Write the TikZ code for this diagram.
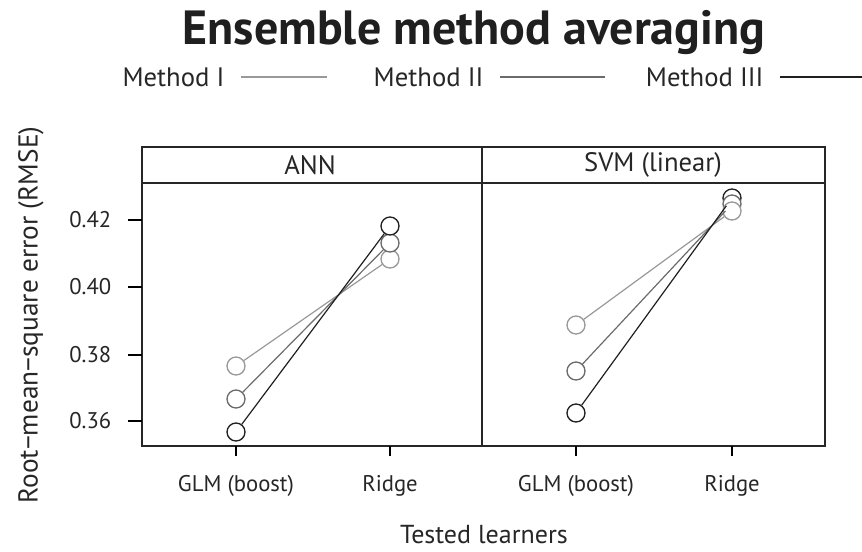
\documentclass[tikz,border=0pt]{standalone}
\usepackage{fontspec}
\setmainfont{PT Sans}
\begin{document}
\begin{tikzpicture}[x=0.75pt,y=-0.75pt,
  frame/.style={draw=black!85,line width=1pt},
  pt/.style={circle,draw,line width=1pt,minimum size=13.5pt,inner sep=0pt,fill=white},
  mI/.style={draw=black!40},
  mII/.style={draw=black!58},
  mIII/.style={draw=black!88},
  lnI/.style={black!40,line width=0.9pt},
  lnII/.style={black!58,line width=0.9pt},
  lnIII/.style={black!88,line width=0.9pt},
  tick/.style={line width=0.9pt},
  ticklab/.style={font=\fontsize{17}{20}\selectfont,text=black!85},
  striplab/.style={font=\fontsize{20}{24}\selectfont,text=black!85},
  leglab/.style={font=\fontsize{20}{24}\selectfont,text=black!85}
]
\useasboundingbox (0,0) rectangle (862,551);
% title
\node[font=\bfseries\fontsize{36}{42}\selectfont,text=black!88] (title) at (474,33) {Ensemble method averaging};
% legend
\node[leglab,anchor=east] (l1) at (229,77) {Method I};
\coordinate (l1a) at (241,77); \coordinate (l1b) at (327,77);
\draw[lnI] (l1a) -- (l1b);
\node[leglab,anchor=east] (l2) at (488,77) {Method II};
\coordinate (l2a) at (500,77); \coordinate (l2b) at (605,77);
\draw[lnII] (l2a) -- (l2b);
\node[leglab,anchor=east] (l3) at (768,77) {Method III};
\coordinate (l3a) at (780,77); \coordinate (l3b) at (862,77);
\draw[lnIII] (l3a) -- (l3b);
% panels
\draw[frame] (142,147) rectangle (482,446);
\draw[frame] (482,147) rectangle (825,446);
\draw[frame] (142,183) -- (825,183);
\node[striplab] (s1) at (310,165) {ANN};
\node[striplab] (s2) at (653,165) {SVM (linear)};
% y ticks
\foreach \v/\y in {0.42/220,0.40/287,0.38/355,0.36/421}{
  \draw[tick] (128,\y) -- (142,\y);
  \node[ticklab,anchor=east] at (116,\y) {\v};
}
% x ticks
\foreach \x in {236,390,576,732}{\draw[tick] (\x,446) -- (\x,456);}
\node[ticklab] (g1) at (236,486) {GLM (boost)};
\node[ticklab] (r1) at (390,486) {Ridge};
\node[ticklab] (g2) at (576,486) {GLM (boost)};
\node[ticklab] (r2) at (732,486) {Ridge};
% axis titles
\node[font=\fontsize{20.5}{24}\selectfont,text=black!85,rotate=90] (ylab) at (31,315) {Root\textminus mean\textminus square error (RMSE)};
\node[font=\fontsize{19.5}{23}\selectfont,text=black!85] (xlab) at (484,535) {Tested learners};
% ANN points
\node[pt,mI] (a1g) at (236,366) {};
\node[pt,mII] (a2g) at (236,399) {};
\node[pt,mIII] (a3g) at (236,432) {};
\node[pt,mI] (a1r) at (390,259) {};
\node[pt,mII] (a2r) at (390,243) {};
\node[pt,mIII] (a3r) at (390,226) {};
\draw[lnI] (a1g) -- (a1r);
\draw[lnII] (a2g) -- (a2r);
\draw[lnIII] (a3g) -- (a3r);
% SVM points
\node[pt,mI] (b1g) at (576,325) {};
\node[pt,mII] (b2g) at (576,371) {};
\node[pt,mIII] (b3g) at (576,413) {};
\node[pt,mIII] (b3r) at (732,198) {};
\node[pt,mII] (b2r) at (732,204) {};
\node[pt,mI] (b1r) at (732,211) {};
\draw[lnI] (b1g) -- (b1r);
\draw[lnII] (b2g) -- (b2r);
\draw[lnIII] (b3g) -- (b3r);
\end{tikzpicture}
\end{document}
